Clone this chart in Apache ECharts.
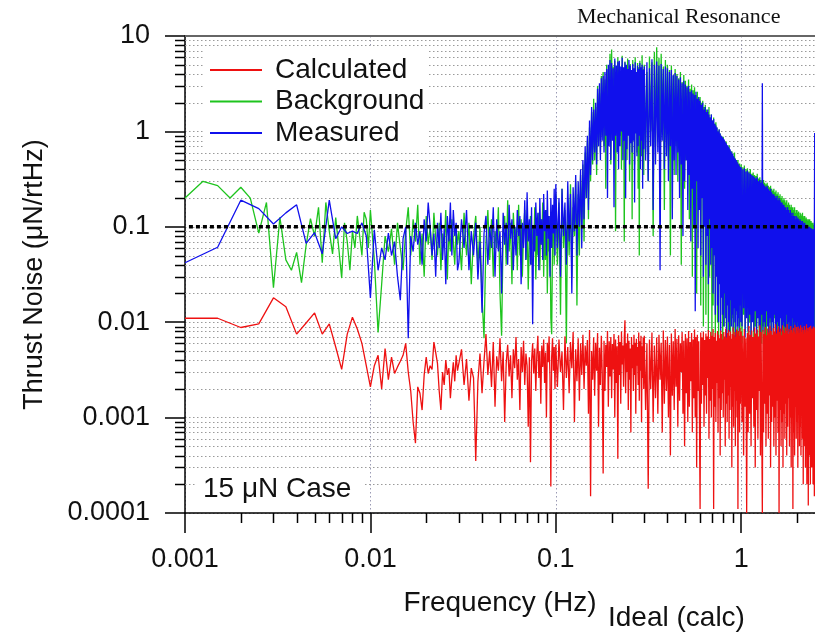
<!DOCTYPE html>
<html>
<head>
<meta charset="utf-8">
<script src="https://cdn.jsdelivr.net/npm/echarts@6/dist/echarts.min.js"></script>
<style>
  html, body { margin: 0; padding: 0; background: #fff; }
  #main { width: 815px; height: 634px; }
</style>
</head>
<body>
<div id="main"></div>
<script>
// frequency bins (Hz): each block is start, step, count
var measStart = [0.001, 0.01, 0.03, 0.1, 0.3, 1.0];
var measStep  = [0.0005, 0.0005, 0.001, 0.002, 0.005, 0.01];
var measCount = [18, 40, 70, 100, 140, 150];
// background run has finer bins below 0.01 Hz
var bgStart = [0.001, 0.01, 0.03, 0.1, 0.3, 1.0];
var bgStep  = [0.00025, 0.0005, 0.001, 0.002, 0.005, 0.01];
var bgCount = [36, 40, 70, 100, 140, 150];

// Calculated (uN/rtHz)
var calculated = [
  0.011,0.011,0.0088,0.0096,0.018,0.0145,0.0075,0.0098,0.0125,0.0075,0.0096,0.0055,0.0032,0.0075,0.0113,0.0085,0.006,0.0035,
  0.0021,0.0035,0.0045,0.0020,0.0053,0.0025,0.0043,0.0029,0.0034,0.0039,
  0.0045,0.0060,0.0030,0.0019,0.0009,0.00054,0.0021,0.0018,0.0012,0.0028,
  0.0043,0.0029,0.0035,0.0032,0.0062,0.0048,0.0037,0.0019,0.0012,0.0030,
  0.0022,0.0040,0.0028,0.0033,0.0016,0.0026,0.0038,0.0024,0.0045,0.0031,
  0.0030,0.0052,0.0022,0.0041,0.0015,0.0033,0.0026,0.00035,0.0024,0.0047,
  0.0018,0.0039,0.0075,0.0028,0.0050,0.0021,0.0062,0.0013,0.0044,0.0031,
  0.0068,0.0024,0.0049,0.0009,0.0037,0.0058,0.0027,0.0045,0.0016,0.0052,
  0.0033,0.0070,0.0025,0.0041,0.0012,0.0055,0.0030,0.0064,0.0022,0.0047,
  0.0035,0.0008,0.0043,0.00034,0.0039,0.0060,0.0029,0.0053,0.0019,0.0046,
  0.0072,0.0026,0.0050,0.0014,0.0057,0.0034,0.0066,0.0023,0.0048,0.0010,
  0.0061,0.0038,0.0071,0.0027,0.00019,0.0044,0.0068,0.0031,0.0055,0.0020,
  0.0058,0.0021,0.0066,0.0030,0.0049,0.0012,0.0071,0.0026,0.0055,0.0018,
  0.0062,0.0033,0.0079,0.0009,0.0052,0.0024,0.0068,0.0015,0.0060,0.0028,
  0.0074,0.0020,0.0057,0.0035,0.0065,0.0011,0.0083,0.00015,0.0050,0.0025,
  0.0069,0.0017,0.0061,0.0031,0.0077,0.0008,0.0054,0.0022,0.0072,0.0029,
  0.00026,0.0064,0.0019,0.0058,0.0034,0.0081,0.0013,0.0063,0.0027,0.0070,
  0.0016,0.0059,0.0032,0.0075,0.0010,0.0066,0.0023,0.0056,0.00037,0.0073,
  0.0028,0.0062,0.0014,0.0080,0.0036,0.0057,0.0021,0.0068,0.0105,0.0018,
  0.0060,0.0030,0.0076,0.0012,0.0064,0.0025,0.0053,0.0007,0.0070,0.0033,
  0.0058,0.0019,0.0074,0.0028,0.0061,0.0011,0.0067,0.0035,0.0055,0.0022,
  0.0078,0.0015,0.0063,0.0031,0.0072,0.0009,0.0056,0.0026,0.0069,0.0020,
  0.0072,0.0012,0.0060,0.00018,0.0066,0.0020,0.0078,0.0009,0.0057,0.0016,
  0.0069,0.0011,0.0074,0.0025,0.0061,0.0007,0.0082,0.0014,0.0065,0.0019,
  0.0071,0.0010,0.0058,0.0004,0.0076,0.0017,0.0063,0.0012,0.0085,0.0021,
  0.0067,0.0008,0.0073,0.0015,0.0060,0.0030,0.0079,0.0011,0.0064,0.0005,
  0.0075,0.0018,0.0068,0.0009,0.0081,0.0013,0.0062,0.0024,0.0077,0.0007,
  0.0066,0.0016,0.0084,0.0010,0.0070,0.0003,0.0074,0.0019,0.0063,0.0012,
  0.00011,0.0078,0.0014,0.0069,0.0022,0.0080,0.0008,0.0065,0.0017,0.0076,
  0.0011,0.0071,0.0026,0.0083,0.0006,0.0067,0.0015,0.0079,0.0010,0.0072,
  0.0020,0.0085,0.00011,0.0070,0.0013,0.0077,0.0009,0.0064,0.0023,0.0081,
  0.0007,0.0074,0.0016,0.0068,0.0004,0.0082,0.0012,0.0075,0.0018,0.0066,
  0.0010,0.0079,0.0025,0.0071,0.0005,0.0086,0.0014,0.0069,0.0009,0.0077,
  0.0017,0.0083,0.0006,0.0072,0.0012,0.0080,0.0021,0.0067,0.0003,0.0075,
  0.0013,0.0088,0.0008,0.0073,0.0019,0.0079,0.0005,0.0070,0.0015,0.0084,
  0.0010,0.0076,0.00011,0.0081,0.0022,0.0072,0.0007,0.0087,0.0014,0.0074,
  0.0080,0.0009,0.0072,0.0004,0.0085,0.0013,0.0068,0.00010,0.0077,0.0007,
  0.0091,0.0011,0.0074,0.0005,0.0082,0.0016,0.0070,0.0008,0.0088,0.0003,
  0.0076,0.0012,0.0084,0.0006,0.0071,0.0019,0.0093,0.0004,0.0079,0.0010,
  0.00010,0.0083,0.0007,0.0075,0.0014,0.0089,0.0005,0.0073,0.0011,0.0086,
  0.0006,0.0078,0.0017,0.0092,0.0003,0.0081,0.0009,0.0074,0.0013,0.0087,
  0.0005,0.0080,0.0010,0.0095,0.0004,0.0076,0.0015,0.0084,0.0007,0.0090,
  0.00010,0.0079,0.0012,0.0086,0.0005,0.0073,0.0009,0.0093,0.0003,0.0082,
  0.0011,0.0077,0.0006,0.0088,0.0014,0.0081,0.0004,0.0096,0.0008,0.0075,
  0.0016,0.0085,0.0005,0.0079,0.0010,0.0091,0.0003,0.0083,0.0012,0.0078,
  0.00011,0.0087,0.0007,0.0080,0.0004,0.0094,0.0013,0.0076,0.0006,0.0089,
  0.0009,0.0082,0.0003,0.0090,0.0011,0.0077,0.0005,0.0086,0.0008,0.0093,
  0.0004,0.0079,0.0014,0.0088,0.0006,0.0083,0.0002,0.0075,0.0010,0.0091,
  0.0005,0.0084,0.0003,0.0078,0.0009,0.0095,0.0002,0.0081,0.0007,0.0087,
  0.00012,0.0080,0.0004,0.0089,0.0008,0.0076,0.0002,0.0092,0.0006,0.0083,
  0.0003,0.0086,0.0010,0.0079,0.0002,0.0090,0.0005,0.0082,0.00015,0.0088
];

// Background (uN/rtHz)
var background = [
  0.2,0.30,0.27,0.2,0.26,0.2,0.086,0.18,0.023,0.126,0.045,0.035,0.054,0.026,0.064,0.122,0.08,0.16,
  0.042,0.18,0.09,0.052,0.125,0.06,0.029,0.11,0.07,0.035,0.09,0.06,0.13,0.08,0.05,0.142,0.12,0.06,
  0.15,0.045,0.0078,0.025,0.08,0.055,0.095,0.04,0.11,0.06,
  0.035,0.09,0.16,0.05,0.12,0.07,0.17,0.04,0.085,0.03,
  0.13,0.065,0.1,0.045,0.14,0.075,0.05,0.11,0.035,0.085,
  0.06,0.15,0.028,0.095,0.055,0.12,0.07,0.04,0.1,0.065,
  0.09,0.035,0.14,0.05,0.11,0.025,0.08,0.13,0.04,0.1,
  0.018,0.0068,0.07,0.15,0.045,0.12,0.03,0.09,0.06,0.16,
  0.02,0.0072,0.085,0.13,0.04,0.19,0.055,0.11,0.025,0.14,
  0.07,0.1,0.035,0.17,0.05,0.12,0.03,0.09,0.15,0.045,
  0.11,0.022,0.08,0.13,0.04,0.1,0.06,0.16,0.028,0.095,
  0.05,0.14,0.035,0.12,0.065,0.18,0.03,0.1,0.045,0.15,
  0.02,0.085,0.055,0.13,0.011,0.0075,0.07,0.16,0.04,0.11,
  0.22,0.04,0.18,0.012,0.25,0.06,0.15,0.006,0.2,0.05,
  0.28,0.03,0.16,0.08,0.3,0.015,0.22,0.05,0.35,0.1,
  0.45,0.07,0.6,0.2,0.8,0.12,1.1,0.3,1.6,0.45,
  2.2,0.5,1.8,0.35,3.0,0.8,2.5,0.6,3.8,0.9,
  4.2,0.7,3.5,0.25,5.0,1.2,4.4,0.8,6.5,0.45,
  7.2,1.0,4.8,0.6,5.5,0.09,4.0,1.3,6.0,0.7,
  5.2,0.9,3.9,0.4,6.2,1.1,4.6,0.07,5.4,0.8,
  4.9,0.5,5.8,1.2,3.7,0.3,5.1,0.85,4.3,0.12,
  5.6,0.95,4.1,0.45,6.0,1.1,3.8,0.6,5.2,0.25,
  4.7,0.05,5.5,1.0,4.0,0.55,6.3,0.9,4.5,0.35,
  5.0,0.6,4.2,0.3,6.1,1.0,5.3,0.08,6.8,0.7,
  7.6,0.9,5.9,0.4,6.5,1.2,4.8,0.15,5.6,0.8,
  5.0,0.5,4.4,0.05,4.9,1.0,3.8,0.35,4.5,0.7,
  4.0,0.3,3.6,0.9,4.2,0.04,3.3,0.6,3.9,0.25,
  3.4,0.5,3.0,0.8,3.5,0.12,2.8,0.4,3.1,0.03,
  2.7,0.35,2.9,0.6,2.4,0.02,2.6,0.3,2.2,0.5,
  2.3,0.015,2.0,0.25,2.1,0.009,1.8,0.4,1.9,0.012,
  1.7,0.2,1.6,0.008,1.8,0.03,1.4,0.3,1.5,0.006,
  1.3,0.015,1.4,0.1,1.2,0.007,1.25,0.05,1.1,0.01,
  1.0,0.006,1.05,0.2,0.95,0.012,0.9,0.025,0.85,0.005,
  0.88,0.04,0.8,0.009,0.75,0.15,0.78,0.006,0.7,0.02,
  0.68,0.008,0.72,0.06,0.64,0.005,0.6,0.1,0.62,0.011,
  0.58,0.007,0.55,0.03,0.6,0.006,0.52,0.012,0.5,0.08,
  0.48,0.005,0.5,0.02,0.45,0.009,0.46,0.007,0.42,0.04,
  0.45,0.006,0.42,0.012,0.44,0.008,0.4,0.03,0.41,0.005,
  0.38,0.01,0.4,0.007,0.36,0.02,0.37,0.006,0.35,0.009,
  0.34,0.005,0.36,0.015,0.32,0.007,0.33,0.011,0.31,0.006,
  0.3,0.009,0.31,0.005,0.29,0.025,0.28,0.007,0.29,0.012,
  0.27,0.006,0.26,0.01,0.27,0.005,0.25,0.018,0.24,0.007,
  0.25,0.011,0.23,0.006,0.24,0.009,0.22,0.005,0.23,0.014,
  0.21,0.007,0.22,0.012,0.2,0.006,0.21,0.02,0.19,0.008,
  0.2,0.005,0.19,0.01,0.18,0.007,0.19,0.006,0.17,0.013,
  0.18,0.008,0.17,0.005,0.16,0.011,0.17,0.007,0.16,0.006,
  0.16,0.015,0.15,0.006,0.16,0.009,0.14,0.005,0.15,0.012,
  0.15,0.007,0.14,0.01,0.145,0.006,0.13,0.008,0.14,0.005,
  0.135,0.012,0.13,0.006,0.14,0.009,0.125,0.007,0.13,0.005,
  0.13,0.01,0.12,0.006,0.125,0.008,0.12,0.005,0.115,0.011,
  0.12,0.007,0.115,0.009,0.12,0.006,0.11,0.012,0.115,0.005,
  0.11,0.008,0.105,0.006,0.11,0.01,0.1,0.007,0.105,0.006
];

// Measured (uN/rtHz)
var measured = [
  0.042,0.061,0.19,0.155,0.107,0.14,0.17,0.067,0.087,0.052,0.19,0.075,0.1,0.085,0.09,0.085,0.11,0.08,
  0.018,0.093,0.035,0.06,0.045,0.086,0.05,0.07,0.03,0.017,
  0.075,0.1,0.0068,0.08,0.055,0.11,0.065,0.09,0.04,0.12,
  0.07,0.18,0.1,0.05,0.085,0.03,0.11,0.06,0.14,0.045,
  0.095,0.025,0.13,0.07,0.18,0.05,0.15,0.08,0.11,0.035,
  0.042,0.12,0.06,0.15,0.035,0.09,0.05,0.11,0.028,0.07,
  0.0126,0.085,0.13,0.04,0.1,0.06,0.16,0.03,0.12,0.055,
  0.09,0.02,0.14,0.065,0.11,0.04,0.17,0.075,0.12,0.035,
  0.1,0.05,0.15,0.08,0.13,0.025,0.11,0.06,0.19,0.045,
  0.23,0.07,0.12,0.04,0.16,0.0095,0.1,0.055,0.18,0.08,
  0.14,0.035,0.2,0.065,0.12,0.045,0.22,0.09,0.15,0.05,
  0.24,0.075,0.13,0.03,0.2,0.06,0.17,0.085,0.25,0.05,
  0.28,0.06,0.2,0.03,0.25,0.08,0.18,0.04,0.3,0.07,
  0.22,0.02,0.26,0.09,0.35,0.05,0.3,0.1,0.4,0.06,
  0.5,0.12,0.7,0.2,0.9,0.15,1.3,0.35,1.8,0.5,
  1.7,0.6,2.0,0.45,2.8,0.7,3.2,0.5,3.6,0.8,
  3.8,0.6,4.2,0.9,4.5,0.2,5.0,0.7,5.6,0.5,
  5.2,0.8,4.6,0.16,5.8,0.9,4.9,0.6,5.4,0.4,
  5.5,0.7,4.8,1.0,5.9,0.5,4.7,0.8,5.3,0.2,
  5.0,0.65,4.5,0.9,5.6,0.45,4.9,0.75,4.4,0.6,
  5.1,0.8,4.6,0.18,5.3,0.95,4.2,0.55,4.9,0.7,
  4.5,0.9,5.2,0.4,4.7,0.8,5.0,0.25,4.4,0.65,
  4.8,0.5,5.3,0.3,4.6,0.7,5.7,0.15,5.0,0.45,
  5.4,0.6,4.9,0.035,5.1,0.8,4.5,0.4,4.8,0.55,
  4.6,0.3,4.2,0.7,4.4,0.12,3.9,0.5,4.1,0.35,
  3.8,0.6,3.5,0.2,3.7,0.45,3.2,0.08,3.4,0.3,
  3.1,0.5,2.9,0.15,3.0,0.35,2.6,0.07,2.7,0.25,
  2.5,0.1,2.4,0.013,2.6,0.3,2.2,0.06,2.3,0.15,
  2.1,0.05,1.9,0.2,2.0,0.03,1.7,0.1,1.8,0.04,
  1.6,0.08,1.7,0.025,1.5,0.12,1.4,0.04,1.5,0.06,
  1.3,0.02,1.35,0.05,1.2,0.012,1.15,0.03,1.1,0.015,
  1.0,0.01,1.05,0.025,0.95,0.008,0.9,0.018,0.88,0.012,
  0.85,0.009,0.82,0.02,0.78,0.011,0.75,0.006,0.72,0.015,
  0.7,0.01,0.68,0.008,0.65,0.017,0.62,0.009,0.6,0.012,
  0.58,0.008,0.55,0.014,0.53,0.01,0.51,0.007,0.5,0.013,
  0.48,0.009,0.46,0.011,0.45,0.008,0.43,0.015,0.42,0.01,
  0.42,0.009,0.4,0.014,0.41,0.007,0.38,0.011,0.39,0.008,
  0.37,0.012,0.36,0.006,0.35,0.01,0.34,0.008,0.33,0.013,
  0.32,0.007,0.33,0.011,0.3,0.009,0.31,0.006,0.29,0.012,
  3.2,0.008,0.28,0.01,0.27,0.007,0.26,0.013,0.27,0.009,
  0.25,0.006,0.24,0.011,0.25,0.008,0.23,0.01,0.22,0.007,
  0.22,0.012,0.21,0.008,0.2,0.006,0.21,0.01,0.19,0.009,
  0.2,0.007,0.19,0.011,0.18,0.008,0.18,0.006,0.17,0.01,
  0.17,0.009,0.16,0.007,0.16,0.012,0.15,0.008,0.16,0.006,
  0.15,0.01,0.14,0.007,0.15,0.009,0.14,0.006,0.13,0.011,
  0.14,0.008,0.13,0.01,0.13,0.007,0.12,0.009,0.13,0.006,
  0.12,0.01,0.125,0.007,0.12,0.008,0.115,0.006,0.12,0.009,
  0.115,0.007,0.11,0.01,0.115,0.006,0.11,0.008,0.105,0.009,
  0.11,0.006,0.105,0.009,0.1,0.007,0.105,0.008,0.1,0.006,
  0.1,0.009,0.098,0.007,0.1,0.008,0.095,0.006,0.097,0.01,
  0.095,0.007,0.092,0.009,0.094,0.006,0.09,0.008,0.092,0.96
];

// ideal (calc) level
var idealFreq = [0.00105, 2.3];
var idealLevel = [0.1, 0.1];

var FONT = 'Liberation Sans';

function buildFreqs(starts, steps, counts) {
  var out = [];
  for (var s = 0; s < starts.length; s++) {
    for (var i = 0; i < counts[s]; i++) {
      out.push(+(starts[s] + i * steps[s]).toPrecision(6));
    }
  }
  return out;
}

function zip(xs, ys) {
  var n = Math.min(xs.length, ys.length);
  var out = [];
  for (var i = 0; i < n; i++) out.push([xs[i], ys[i]]);
  return out;
}

var measFreq = buildFreqs(measStart, measStep, measCount);
var bgFreq = buildFreqs(bgStart, bgStep, bgCount);

// minor ticks 2..9 inside each decade
function minorTicks(decades, maxVal) {
  var out = [];
  decades.forEach(function (d) {
    for (var m = 2; m <= 9; m++) {
      var v = +(m * d).toPrecision(4);
      if (v < maxVal) out.push(v);
    }
  });
  return out;
}
var yMinor = minorTicks([0.0001, 0.001, 0.01, 0.1, 1], 10);
var xMinor = minorTicks([0.001, 0.01, 0.1, 1], 2.5);

var tickData = yMinor.map(function (v) { return [0.001, v, 0]; })
  .concat(xMinor.map(function (v) { return [v, 0.0001, 1]; }));

function fmt(v) { return String(+Number(v).toPrecision(3)); }

var chart = echarts.init(document.getElementById('main'));

var option = {
  animation: false,
  backgroundColor: '#fff',
  grid: { left: 185, top: 36, right: 0, bottom: 121 },
  legend: {
    data: ['Calculated', 'Background', 'Measured'],
    orient: 'vertical',
    left: 205,
    top: 47,
    padding: [9, 4, 6, 5],
    backgroundColor: '#fff',
    itemWidth: 52,
    itemHeight: 2,
    itemGap: 3.5,
    icon: 'rect',
    selectedMode: false,
    textStyle: { fontFamily: FONT, fontSize: 28, color: '#111', lineHeight: 28, padding: [0, 0, 0, 8] }
  },
  xAxis: [{
    type: 'log',
    logBase: 10,
    min: 0.001,
    max: 2.5,
    interval: 1,
    name: 'Frequency (Hz)',
    nameLocation: 'middle',
    nameGap: 76,
    nameTextStyle: { fontFamily: FONT, fontSize: 28, color: '#111' },
    axisLine: { lineStyle: { color: '#000', width: 1.5 } },
    axisTick: { length: 20, lineStyle: { color: '#000', width: 1.5 } },
    axisLabel: { margin: 33, fontFamily: FONT, fontSize: 27, color: '#111', formatter: fmt, showMaxLabel: false },
    splitLine: { show: true, lineStyle: { color: '#9a9ab4', width: 1, type: [1.5, 2.5] } }
  }, {
    type: 'log',
    logBase: 10,
    min: 0.001,
    max: 2.5,
    position: 'top',
    axisLine: { lineStyle: { color: '#666', width: 2 } },
    axisTick: { show: false },
    axisLabel: { show: false },
    splitLine: { show: false }
  }],
  yAxis: {
    type: 'log',
    logBase: 10,
    min: 0.0001,
    max: 10,
    interval: 1,
    name: 'Thrust Noise (\u03bcN/rtHz)',
    nameLocation: 'middle',
    nameGap: 137,
    nameTextStyle: { fontFamily: FONT, fontSize: 27, color: '#111' },
    axisLine: { show: true, lineStyle: { color: '#000', width: 1.5 } },
    axisTick: { show: true, length: 20, lineStyle: { color: '#000', width: 1.5 } },
    axisLabel: { margin: 35, fontFamily: FONT, fontSize: 27, color: '#111', formatter: fmt },
    splitLine: { show: true, lineStyle: { color: '#9a9a9a', width: 1, type: [1.5, 2.5] } }
  },
  series: [
    {
      // minor ticks and dotted minor grid
      type: 'custom',
      name: 'minor',
      silent: true,
      clip: false,
      encode: { x: 0, y: 1 },
      data: tickData,
      renderItem: function (params, api) {
        var cs = params.coordSys;
        var p = api.coord([api.value(0), api.value(1)]);
        if (api.value(2) === 0) {
          var y = Math.round(p[1]) + 0.5;
          return { type: 'group', children: [
            { type: 'line', shape: { x1: cs.x, y1: y, x2: cs.x + cs.width, y2: y },
              style: { stroke: '#9a9a9a', lineWidth: 1, lineDash: [1.5, 2.5] } },
            { type: 'line', shape: { x1: cs.x - 10, y1: y, x2: cs.x, y2: y },
              style: { stroke: '#000', lineWidth: 1.5 } }
          ] };
        }
        var x = Math.round(p[0]) + 0.5;
        var yb = cs.y + cs.height;
        return { type: 'line', shape: { x1: x, y1: yb, x2: x, y2: yb + 10 },
          style: { stroke: '#000', lineWidth: 1.5 } };
      }
    },
    {
      name: 'Background',
      type: 'line',
      data: zip(bgFreq, background),
      showSymbol: false,
      symbol: 'none',
      silent: true,
      color: '#1ec41e',
      lineStyle: { width: 1.3, color: '#1ec41e' }
    },
    {
      name: 'Measured',
      type: 'line',
      data: zip(measFreq, measured),
      showSymbol: false,
      symbol: 'none',
      silent: true,
      color: '#1010ec',
      lineStyle: { width: 1.3, color: '#1010ec' }
    },
    {
      name: 'Calculated',
      type: 'line',
      data: zip(measFreq, calculated),
      showSymbol: false,
      symbol: 'none',
      silent: true,
      color: '#ee1111',
      lineStyle: { width: 1.3, color: '#ee1111' }
    },
    {
      name: 'Ideal (calc)',
      type: 'line',
      data: zip(idealFreq, idealLevel),
      showSymbol: false,
      symbol: 'none',
      silent: true,
      z: 5,
      lineStyle: { width: 3.5, color: '#000', type: [4, 3] }
    }
  ],
  graphic: [
    { type: 'text', left: 577, top: 6, z: 100,
      style: { text: 'Mechanical Resonance', font: '22px "Liberation Serif"', fill: '#111' } },
    { type: 'text', left: 608, top: 604, z: 100,
      style: { text: 'Ideal (calc)', font: '28px "Liberation Sans"', fill: '#111' } },
    { type: 'rect', left: 196, top: 472, z: 100,
      shape: { width: 168, height: 33 }, style: { fill: '#fff' } },
    { type: 'text', left: 203, top: 475, z: 101,
      style: { text: '15 \u03bcN Case', font: '28px "Liberation Sans"', fill: '#111' } }
  ]
};

chart.setOption(option);
</script>
</body>
</html>
